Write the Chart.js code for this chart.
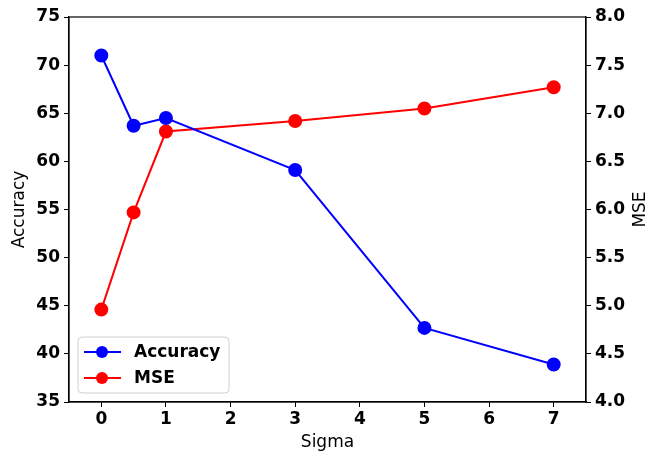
<!DOCTYPE html>
<html>
<head>
<meta charset="utf-8">
<script src="https://cdn.jsdelivr.net/npm/chart.js@4"></script>
<style>
  body { margin: 0; background: #fff; }
  #wrap { width: 650px; height: 457px; }
</style>
</head>
<body>
<div id="wrap"><canvas id="myChart" width="650" height="457"></canvas></div>
<script>
// values
var sigma = [0, 0.5, 1, 3, 5, 7];
var accuracy = [71.0, 63.7, 64.5, 59.1, 42.7, 38.9];
var mse = [4.96, 5.97, 6.81, 6.92, 7.05, 7.27];
var xTicks = [0, 1, 2, 3, 4, 5, 6, 7];

function pts(xs, ys) {
  var out = [];
  for (var i = 0; i < xs.length; i++) out.push({x: xs[i], y: ys[i]});
  return out;
}

var tickFont = {family: 'DejaVu Sans', size: 17, weight: 'bold'};
var titleFont = {family: 'DejaVu Sans', size: 17, weight: 'normal'};

function sideTitle(c, text, x, y) {
  c.save();
  c.translate(x, y);
  c.rotate(-Math.PI / 2);
  c.fillStyle = '#000';
  c.font = '17px "DejaVu Sans"';
  c.textAlign = 'center';
  c.textBaseline = 'middle';
  c.fillText(text, 0, 0);
  c.restore();
}

// box around plot area + y axis titles (both read bottom to top)
var frame = {
  id: 'frame',
  afterDraw: function(chart) {
    var a = chart.chartArea, c = chart.ctx;
    c.save();
    c.strokeStyle = '#000';
    c.lineWidth = 1.2;
    c.strokeRect(a.left, a.top, a.right - a.left, a.bottom - a.top);
    c.restore();
    var mid = (a.top + a.bottom) / 2;
    sideTitle(c, 'Accuracy', 20, mid);
    sideTitle(c, 'MSE', 641, mid);
  }
};

// legend drawn inside the plot, lower left
var innerLegend = {
  id: 'innerLegend',
  afterDraw: function(chart) {
    var c = chart.ctx, a = chart.chartArea;
    var x0 = a.left + 9, y0 = a.bottom - 65, w = 151, h = 56;
    c.save();
    c.fillStyle = 'rgba(255,255,255,0.8)';
    c.strokeStyle = '#d0d0d0';
    c.lineWidth = 1;
    c.beginPath();
    c.roundRect(x0, y0, w, h, 4);
    c.fill();
    c.stroke();
    c.font = 'bold 17px "DejaVu Sans"';
    c.textBaseline = 'middle';
    chart.data.datasets.forEach(function(ds, i) {
      var cy = y0 + 15 + i * 26;
      c.strokeStyle = ds.borderColor;
      c.lineWidth = 2;
      c.beginPath();
      c.moveTo(x0 + 6, cy);
      c.lineTo(x0 + 43, cy);
      c.stroke();
      c.fillStyle = ds.borderColor;
      c.beginPath();
      c.arc(x0 + 24, cy, 6, 0, Math.PI * 2);
      c.fill();
      c.fillStyle = '#000';
      c.fillText(ds.label, x0 + 56, cy + 1);
    });
    c.restore();
  }
};

var chart = new Chart(document.getElementById('myChart'), {
  type: 'line',
  data: {
    datasets: [
      {label: 'Accuracy', data: pts(sigma, accuracy), borderColor: '#0000ff', backgroundColor: '#0000ff',
       borderWidth: 2, pointRadius: 6, pointHoverRadius: 6, yAxisID: 'y'},
      {label: 'MSE', data: pts(sigma, mse), borderColor: '#ff0000', backgroundColor: '#ff0000',
       borderWidth: 2, pointRadius: 6, pointHoverRadius: 6, yAxisID: 'y1'}
    ]
  },
  options: {
    responsive: false,
    animation: false,
    layout: {padding: {top: 17, left: 0, right: 0, bottom: 0}},
    plugins: {legend: {display: false}, tooltip: {enabled: false}},
    scales: {
      x: {
        type: 'linear', min: -0.5, max: 7.5,
        afterBuildTicks: function(s) { s.ticks = xTicks.map(function(v) { return {value: v}; }); },
        afterFit: function(s) { s.height = 55; },
        grid: {drawOnChartArea: false, tickLength: 5, color: '#000'},
        border: {color: '#000', width: 1.2},
        ticks: {color: '#000', font: tickFont, padding: 2, maxRotation: 0},
        title: {display: true, text: 'Sigma', color: '#000', font: titleFont, padding: {top: 0}}
      },
      y: {
        position: 'left', min: 35, max: 75,
        afterFit: function(s) { s.width = 69; },
        grid: {drawOnChartArea: false, tickLength: 5, color: '#000'},
        border: {color: '#000', width: 1.2},
        ticks: {stepSize: 5, color: '#000', font: tickFont, padding: 4},
        title: {display: false}
      },
      y1: {
        position: 'right', min: 4, max: 8,
        afterFit: function(s) { s.width = 64; },
        grid: {drawOnChartArea: false, tickLength: 5, color: '#000'},
        border: {color: '#000', width: 1.2},
        ticks: {stepSize: 0.5, color: '#000', font: tickFont, padding: 4,
                callback: function(v) { return v.toFixed(1); }},
        title: {display: false}
      }
    }
  },
  plugins: [frame, innerLegend]
});
</script>
</body>
</html>
